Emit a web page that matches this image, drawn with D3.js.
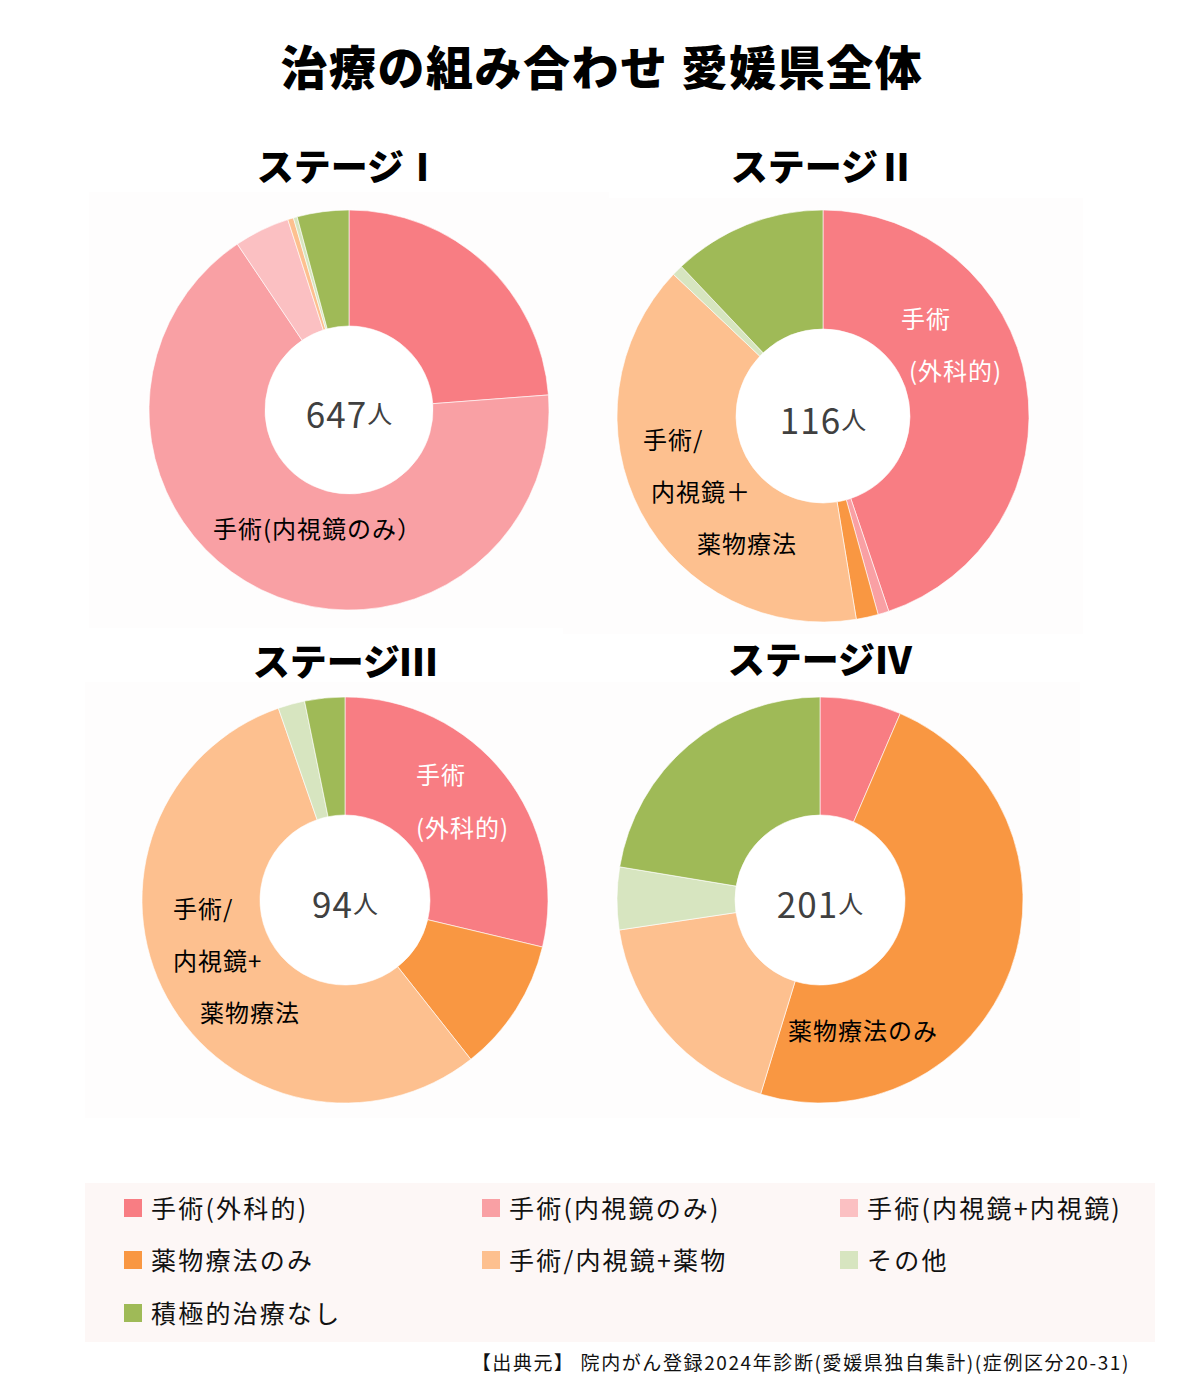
<!DOCTYPE html>
<html>
<head>
<meta charset="utf-8">
<script src="https://cdn.jsdelivr.net/npm/d3@7"></script>
<style>
  body { margin: 0; background: #fff; }
  text { font-family: "Noto Sans CJK JP", "Noto Sans", sans-serif; }
</style>
</head>
<body>
<div id="chart"></div>
<script>
// categories and colours
const categories = ["手術(外科的)", "手術(内視鏡のみ)", "手術(内視鏡+内視鏡)", "薬物療法のみ", "手術/内視鏡+薬物", "その他", "積極的治療なし"];
const colors = ["#f87d83", "#f9a0a4", "#fbc0c2", "#f99742", "#fdc08f", "#d7e5c0", "#9fba57"];

// stage titles and totals
const stageNames = ["ステージⅠ", "ステージⅡ", "ステージⅢ", "ステージⅣ"];
const totals = [647, 116, 94, 201];

// counts per category, one array per stage
const stage1 = [154, 432, 29, 0, 3, 2, 27];
const stage2 = [52, 1, 0, 2, 46, 1, 14];
const stage3 = [27, 0, 0, 10, 52, 2, 3];
const stage4 = [13, 0, 0, 97, 36, 10, 45];
const stageValues = [stage1, stage2, stage3, stage4];

// in-slice labels (lines of text, colour)
const sliceLabels = [
  [{ lines: ["手術(内視鏡のみ）"], fill: "#000" }],
  [{ lines: ["手術", "(外科的)"], fill: "#fff" }, { lines: ["手術/", "内視鏡＋", "薬物療法"], fill: "#000" }],
  [{ lines: ["手術", "(外科的)"], fill: "#fff" }, { lines: ["手術/", "内視鏡+", "薬物療法"], fill: "#000" }],
  [{ lines: ["薬物療法のみ"], fill: "#000" }]
];

const width = 1200, height = 1394;

// layout of each panel
const panels = [
  { cx: 349, cy: 410, r: 200, ir: 84, titleY: 165, labelPos: [[[-136, 117]]] },
  { cx: 823, cy: 416, r: 206, ir: 87, titleY: 165, labelPos: [[[78, -99], [86, -47]], [[-180, 22], [-172, 74], [-126, 126]]] },
  { cx: 345, cy: 900, r: 203, ir: 85, titleY: 660, labelPos: [[[71, -127], [71, -74]], [[-172, 7], [-172, 59], [-145, 111]]] },
  { cx: 820, cy: 900, r: 203, ir: 85, titleY: 658, labelPos: [[[-32, 129]]] }
];

const svg = d3.select("#chart").append("svg")
  .attr("width", width)
  .attr("height", height);

svg.append("rect").attr("width", width).attr("height", height).attr("fill", "#fff");

// main title
svg.append("text")
  .attr("x", 602).attr("y", 64)
  .attr("text-anchor", "middle")
  .attr("dominant-baseline", "central")
  .style("font-size", "47px").style("font-weight", "900")
  .style("letter-spacing", "1.5px")
  .text("治療の組み合わせ 愛媛県全体");

const pie = d3.pie().sort(null).value(d => d);

stageValues.forEach((vals, i) => {
  const p = panels[i];
  const g = svg.append("g");

  // faint panel background
  g.append("rect")
    .attr("x", p.cx - 260).attr("y", p.cy - 218)
    .attr("width", 520).attr("height", 436)
    .attr("fill", "#fefdfd");

  g.append("text")
    .attr("x", p.cx).attr("y", p.titleY)
    .attr("text-anchor", "middle")
    .attr("dominant-baseline", "central")
    .style("font-size", "37px").style("font-weight", "900")
    .text(stageNames[i]);

  const arc = d3.arc().innerRadius(p.ir).outerRadius(p.r);
  const pg = g.append("g").attr("transform", `translate(${p.cx},${p.cy})`);

  pg.append("circle").attr("r", p.ir).attr("fill", "#fff");

  pg.selectAll("path")
    .data(pie(vals).filter(d => d.value > 0))
    .enter()
    .append("path")
    .attr("d", arc)
    .attr("fill", d => colors[d.index])
    .attr("stroke", "#fff")
    .attr("stroke-width", 0.6);

  // centre total
  const ct = pg.append("text")
    .attr("x", 0).attr("y", 2)
    .attr("text-anchor", "middle")
    .attr("dominant-baseline", "central")
    .attr("fill", "#404040");
  ct.append("tspan").style("font-size", "35px").style("letter-spacing", "1px").text(totals[i]);
  ct.append("tspan").style("font-size", "25px").text("人");

  // slice labels
  sliceLabels[i].forEach((lab, j) => {
    lab.lines.forEach((line, k) => {
      const pos = p.labelPos[j][k];
      pg.append("text")
        .attr("x", pos[0]).attr("y", pos[1])
        .attr("dominant-baseline", "central")
        .attr("fill", lab.fill)
        .style("font-size", "24px")
        .style("letter-spacing", "1px")
        .text(line);
    });
  });
});

// legend
const legend = svg.append("g");
legend.append("rect")
  .attr("x", 85).attr("y", 1183)
  .attr("width", 1070).attr("height", 159)
  .attr("fill", "#fdf7f6");

const colX = d3.scaleOrdinal().domain([0, 1, 2]).range([124, 482, 840]);
const rowY = d3.scaleOrdinal().domain([0, 1, 2]).range([1207, 1259, 1312]);

const items = legend.selectAll("g.item")
  .data(categories)
  .enter()
  .append("g")
  .attr("class", "item")
  .attr("transform", (d, i) => `translate(${colX(i % 3)},${rowY(Math.floor(i / 3))})`);

items.append("rect")
  .attr("x", 0).attr("y", -8)
  .attr("width", 18).attr("height", 18)
  .attr("fill", (d, i) => colors[i]);

items.append("text")
  .attr("x", 27).attr("y", 0)
  .attr("dominant-baseline", "central")
  .style("font-size", "25px")
  .style("letter-spacing", "2.2px")
  .attr("fill", "#111")
  .text(d => d);

// source
svg.append("text")
  .attr("x", 1130).attr("y", 1361)
  .attr("text-anchor", "end")
  .attr("dominant-baseline", "central")
  .style("font-size", "19px")
  .style("letter-spacing", "1.6px")
  .attr("fill", "#111")
  .text("【出典元】 院内がん登録2024年診断(愛媛県独自集計)(症例区分20-31)");
</script>
</body>
</html>
